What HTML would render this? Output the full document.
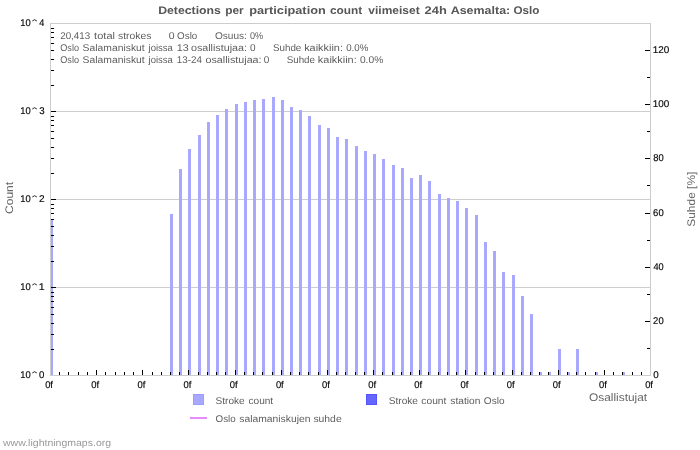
<!DOCTYPE html><html><head><meta charset="utf-8"><title>chart</title><style>html,body{margin:0;padding:0;background:#fff}svg{display:block}text{font-family:"Liberation Sans",sans-serif}</style></head><body>
<svg width="700" height="450" viewBox="0 0 700 450">
<rect x="0" y="0" width="700" height="450" fill="#fff"/>
<g shape-rendering="crispEdges">
<rect x="51" y="111" width="599" height="1" fill="#cdcdcd"/>
<rect x="51" y="199" width="599" height="1" fill="#cdcdcd"/>
<rect x="51" y="287" width="599" height="1" fill="#cdcdcd"/>
<rect x="50" y="23" width="601" height="1" fill="#cdcdcd"/>
<rect x="50" y="375" width="601" height="1" fill="#cdcdcd"/>
<rect x="650" y="23" width="1" height="353" fill="#cdcdcd"/>
<rect x="50" y="220" width="3" height="155" fill="#a8a8ff"/>
<rect x="170" y="214" width="3" height="161" fill="#a8a8ff"/>
<rect x="179" y="169" width="3" height="206" fill="#a8a8ff"/>
<rect x="188" y="149" width="3" height="226" fill="#a8a8ff"/>
<rect x="198" y="135" width="3" height="240" fill="#a8a8ff"/>
<rect x="207" y="122" width="3" height="253" fill="#a8a8ff"/>
<rect x="216" y="115" width="3" height="260" fill="#a8a8ff"/>
<rect x="225" y="109" width="3" height="266" fill="#a8a8ff"/>
<rect x="235" y="104" width="3" height="271" fill="#a8a8ff"/>
<rect x="244" y="102" width="3" height="273" fill="#a8a8ff"/>
<rect x="253" y="100" width="3" height="275" fill="#a8a8ff"/>
<rect x="262" y="99" width="3" height="276" fill="#a8a8ff"/>
<rect x="272" y="97" width="3" height="278" fill="#a8a8ff"/>
<rect x="281" y="100" width="3" height="275" fill="#a8a8ff"/>
<rect x="290" y="107" width="3" height="268" fill="#a8a8ff"/>
<rect x="299" y="110" width="3" height="265" fill="#a8a8ff"/>
<rect x="308" y="116" width="3" height="259" fill="#a8a8ff"/>
<rect x="318" y="125" width="3" height="250" fill="#a8a8ff"/>
<rect x="327" y="128" width="3" height="247" fill="#a8a8ff"/>
<rect x="336" y="137" width="3" height="238" fill="#a8a8ff"/>
<rect x="345" y="139" width="3" height="236" fill="#a8a8ff"/>
<rect x="355" y="146" width="3" height="229" fill="#a8a8ff"/>
<rect x="364" y="151" width="3" height="224" fill="#a8a8ff"/>
<rect x="373" y="154" width="3" height="221" fill="#a8a8ff"/>
<rect x="382" y="159" width="3" height="216" fill="#a8a8ff"/>
<rect x="392" y="165" width="3" height="210" fill="#a8a8ff"/>
<rect x="401" y="168" width="3" height="207" fill="#a8a8ff"/>
<rect x="410" y="178" width="3" height="197" fill="#a8a8ff"/>
<rect x="419" y="175" width="3" height="200" fill="#a8a8ff"/>
<rect x="428" y="181" width="3" height="194" fill="#a8a8ff"/>
<rect x="438" y="194" width="3" height="181" fill="#a8a8ff"/>
<rect x="447" y="198" width="3" height="177" fill="#a8a8ff"/>
<rect x="456" y="201" width="3" height="174" fill="#a8a8ff"/>
<rect x="465" y="208" width="3" height="167" fill="#a8a8ff"/>
<rect x="475" y="215" width="3" height="160" fill="#a8a8ff"/>
<rect x="484" y="242" width="3" height="133" fill="#a8a8ff"/>
<rect x="493" y="251" width="3" height="124" fill="#a8a8ff"/>
<rect x="502" y="272" width="3" height="103" fill="#a8a8ff"/>
<rect x="512" y="275" width="3" height="100" fill="#a8a8ff"/>
<rect x="521" y="296" width="3" height="79" fill="#a8a8ff"/>
<rect x="530" y="314" width="3" height="61" fill="#a8a8ff"/>
<rect x="539" y="372" width="3" height="3" fill="#a8a8ff"/>
<rect x="548" y="372" width="3" height="3" fill="#a8a8ff"/>
<rect x="558" y="349" width="3" height="26" fill="#a8a8ff"/>
<rect x="567" y="372" width="3" height="3" fill="#a8a8ff"/>
<rect x="576" y="349" width="3" height="26" fill="#a8a8ff"/>
<rect x="595" y="372" width="3" height="3" fill="#a8a8ff"/>
<rect x="622" y="372" width="3" height="3" fill="#a8a8ff"/>
<rect x="50" y="23" width="1" height="353" fill="#cdcdcd"/>
<rect x="51" y="85" width="3" height="1" fill="#000"/>
<rect x="51" y="70" width="3" height="1" fill="#000"/>
<rect x="51" y="59" width="3" height="1" fill="#000"/>
<rect x="51" y="50" width="3" height="1" fill="#000"/>
<rect x="51" y="43" width="3" height="1" fill="#000"/>
<rect x="51" y="37" width="3" height="1" fill="#000"/>
<rect x="51" y="32" width="3" height="1" fill="#000"/>
<rect x="51" y="28" width="3" height="1" fill="#000"/>
<rect x="51" y="111" width="5" height="1" fill="#000"/>
<rect x="51" y="173" width="3" height="1" fill="#000"/>
<rect x="51" y="158" width="3" height="1" fill="#000"/>
<rect x="51" y="147" width="3" height="1" fill="#000"/>
<rect x="51" y="138" width="3" height="1" fill="#000"/>
<rect x="51" y="131" width="3" height="1" fill="#000"/>
<rect x="51" y="125" width="3" height="1" fill="#000"/>
<rect x="51" y="120" width="3" height="1" fill="#000"/>
<rect x="51" y="116" width="3" height="1" fill="#000"/>
<rect x="51" y="199" width="5" height="1" fill="#000"/>
<rect x="51" y="261" width="3" height="1" fill="#000"/>
<rect x="51" y="246" width="3" height="1" fill="#000"/>
<rect x="51" y="235" width="3" height="1" fill="#000"/>
<rect x="51" y="226" width="3" height="1" fill="#000"/>
<rect x="51" y="219" width="3" height="1" fill="#000"/>
<rect x="51" y="213" width="3" height="1" fill="#000"/>
<rect x="51" y="208" width="3" height="1" fill="#000"/>
<rect x="51" y="204" width="3" height="1" fill="#000"/>
<rect x="51" y="287" width="5" height="1" fill="#000"/>
<rect x="51" y="349" width="3" height="1" fill="#000"/>
<rect x="51" y="334" width="3" height="1" fill="#000"/>
<rect x="51" y="323" width="3" height="1" fill="#000"/>
<rect x="51" y="314" width="3" height="1" fill="#000"/>
<rect x="51" y="307" width="3" height="1" fill="#000"/>
<rect x="51" y="301" width="3" height="1" fill="#000"/>
<rect x="51" y="296" width="3" height="1" fill="#000"/>
<rect x="51" y="292" width="3" height="1" fill="#000"/>
<rect x="647" y="348" width="3" height="1" fill="#000"/>
<rect x="645" y="321" width="5" height="1" fill="#000"/>
<rect x="647" y="294" width="3" height="1" fill="#000"/>
<rect x="645" y="267" width="5" height="1" fill="#000"/>
<rect x="647" y="240" width="3" height="1" fill="#000"/>
<rect x="645" y="213" width="5" height="1" fill="#000"/>
<rect x="647" y="185" width="3" height="1" fill="#000"/>
<rect x="645" y="158" width="5" height="1" fill="#000"/>
<rect x="647" y="131" width="3" height="1" fill="#000"/>
<rect x="645" y="104" width="5" height="1" fill="#000"/>
<rect x="647" y="77" width="3" height="1" fill="#000"/>
<rect x="645" y="50" width="5" height="1" fill="#000"/>
<rect x="59" y="372" width="1" height="3" fill="#000"/>
<rect x="68" y="372" width="1" height="3" fill="#000"/>
<rect x="78" y="372" width="1" height="3" fill="#000"/>
<rect x="87" y="372" width="1" height="3" fill="#000"/>
<rect x="96" y="370" width="1" height="5" fill="#000"/>
<rect x="105" y="372" width="1" height="3" fill="#000"/>
<rect x="115" y="372" width="1" height="3" fill="#000"/>
<rect x="124" y="372" width="1" height="3" fill="#000"/>
<rect x="133" y="372" width="1" height="3" fill="#000"/>
<rect x="142" y="370" width="1" height="5" fill="#000"/>
<rect x="152" y="372" width="1" height="3" fill="#000"/>
<rect x="161" y="372" width="1" height="3" fill="#000"/>
<rect x="170" y="372" width="1" height="3" fill="#000"/>
<rect x="179" y="372" width="1" height="3" fill="#000"/>
<rect x="188" y="370" width="1" height="5" fill="#000"/>
<rect x="198" y="372" width="1" height="3" fill="#000"/>
<rect x="207" y="372" width="1" height="3" fill="#000"/>
<rect x="216" y="372" width="1" height="3" fill="#000"/>
<rect x="225" y="372" width="1" height="3" fill="#000"/>
<rect x="235" y="370" width="1" height="5" fill="#000"/>
<rect x="244" y="372" width="1" height="3" fill="#000"/>
<rect x="253" y="372" width="1" height="3" fill="#000"/>
<rect x="262" y="372" width="1" height="3" fill="#000"/>
<rect x="272" y="372" width="1" height="3" fill="#000"/>
<rect x="281" y="370" width="1" height="5" fill="#000"/>
<rect x="290" y="372" width="1" height="3" fill="#000"/>
<rect x="299" y="372" width="1" height="3" fill="#000"/>
<rect x="308" y="372" width="1" height="3" fill="#000"/>
<rect x="318" y="372" width="1" height="3" fill="#000"/>
<rect x="327" y="370" width="1" height="5" fill="#000"/>
<rect x="336" y="372" width="1" height="3" fill="#000"/>
<rect x="345" y="372" width="1" height="3" fill="#000"/>
<rect x="355" y="372" width="1" height="3" fill="#000"/>
<rect x="364" y="372" width="1" height="3" fill="#000"/>
<rect x="373" y="370" width="1" height="5" fill="#000"/>
<rect x="382" y="372" width="1" height="3" fill="#000"/>
<rect x="392" y="372" width="1" height="3" fill="#000"/>
<rect x="401" y="372" width="1" height="3" fill="#000"/>
<rect x="410" y="372" width="1" height="3" fill="#000"/>
<rect x="419" y="370" width="1" height="5" fill="#000"/>
<rect x="428" y="372" width="1" height="3" fill="#000"/>
<rect x="438" y="372" width="1" height="3" fill="#000"/>
<rect x="447" y="372" width="1" height="3" fill="#000"/>
<rect x="456" y="372" width="1" height="3" fill="#000"/>
<rect x="465" y="370" width="1" height="5" fill="#000"/>
<rect x="475" y="372" width="1" height="3" fill="#000"/>
<rect x="484" y="372" width="1" height="3" fill="#000"/>
<rect x="493" y="372" width="1" height="3" fill="#000"/>
<rect x="502" y="372" width="1" height="3" fill="#000"/>
<rect x="512" y="370" width="1" height="5" fill="#000"/>
<rect x="521" y="372" width="1" height="3" fill="#000"/>
<rect x="530" y="372" width="1" height="3" fill="#000"/>
<rect x="539" y="372" width="1" height="3" fill="#000"/>
<rect x="548" y="372" width="1" height="3" fill="#000"/>
<rect x="558" y="370" width="1" height="5" fill="#000"/>
<rect x="567" y="372" width="1" height="3" fill="#000"/>
<rect x="576" y="372" width="1" height="3" fill="#000"/>
<rect x="585" y="372" width="1" height="3" fill="#000"/>
<rect x="595" y="372" width="1" height="3" fill="#000"/>
<rect x="604" y="370" width="1" height="5" fill="#000"/>
<rect x="613" y="372" width="1" height="3" fill="#000"/>
<rect x="622" y="372" width="1" height="3" fill="#000"/>
<rect x="632" y="372" width="1" height="3" fill="#000"/>
<rect x="641" y="372" width="1" height="3" fill="#000"/>
</g>
<g style="will-change:transform;opacity:0.995;text-rendering:geometricPrecision">
<text x="158.18" y="14" font-size="11" font-weight="bold" fill="#555" textLength="62.72" lengthAdjust="spacingAndGlyphs">Detections</text>
<text x="225.21" y="14" font-size="11" font-weight="bold" fill="#555" textLength="18.57" lengthAdjust="spacingAndGlyphs">per</text>
<text x="249.16" y="14" font-size="11" font-weight="bold" fill="#555" textLength="76.63" lengthAdjust="spacingAndGlyphs">participation</text>
<text x="329.94" y="14" font-size="11" font-weight="bold" fill="#555" textLength="32.21" lengthAdjust="spacingAndGlyphs">count</text>
<text x="368.35" y="14" font-size="11" font-weight="bold" fill="#555" textLength="51.39" lengthAdjust="spacingAndGlyphs">viimeiset</text>
<text x="424.55" y="14" font-size="11" font-weight="bold" fill="#555" textLength="22.25" lengthAdjust="spacingAndGlyphs">24h</text>
<text x="450.69" y="14" font-size="11" font-weight="bold" fill="#555" textLength="59.51" lengthAdjust="spacingAndGlyphs">Asemalta:</text>
<text x="513.52" y="14" font-size="11" font-weight="bold" fill="#555" textLength="25.93" lengthAdjust="spacingAndGlyphs">Oslo</text>
<text x="20.18" y="26.0" font-size="9.8" stroke="#000" stroke-width="0.15" fill="#000" textLength="10.49" lengthAdjust="spacingAndGlyphs">10</text>
<polyline points="32.3,21.0 34.6,19.7 36.9,21.0" fill="none" stroke="#111" stroke-width="0.9" stroke-linejoin="round"/>
<text x="39.29" y="26.0" font-size="9.8" stroke="#000" stroke-width="0.15" fill="#000" textLength="5.08" lengthAdjust="spacingAndGlyphs">4</text>
<text x="20.18" y="114.0" font-size="9.8" stroke="#000" stroke-width="0.15" fill="#000" textLength="10.49" lengthAdjust="spacingAndGlyphs">10</text>
<polyline points="32.3,109.0 34.6,107.7 36.9,109.0" fill="none" stroke="#111" stroke-width="0.9" stroke-linejoin="round"/>
<text x="39.13" y="114.0" font-size="9.8" stroke="#000" stroke-width="0.15" fill="#000" textLength="5.40" lengthAdjust="spacingAndGlyphs">3</text>
<text x="20.18" y="202.0" font-size="9.8" stroke="#000" stroke-width="0.15" fill="#000" textLength="10.49" lengthAdjust="spacingAndGlyphs">10</text>
<polyline points="32.3,197.0 34.6,195.7 36.9,197.0" fill="none" stroke="#111" stroke-width="0.9" stroke-linejoin="round"/>
<text x="38.99" y="202.0" font-size="9.8" stroke="#000" stroke-width="0.15" fill="#000" textLength="5.62" lengthAdjust="spacingAndGlyphs">2</text>
<text x="20.18" y="290.0" font-size="9.8" stroke="#000" stroke-width="0.15" fill="#000" textLength="10.49" lengthAdjust="spacingAndGlyphs">10</text>
<polyline points="32.3,285.0 34.6,283.7 36.9,285.0" fill="none" stroke="#111" stroke-width="0.9" stroke-linejoin="round"/>
<text x="38.69" y="290.0" font-size="9.8" stroke="#000" stroke-width="0.15" fill="#000" textLength="5.93" lengthAdjust="spacingAndGlyphs">1</text>
<text x="20.18" y="378.0" font-size="9.8" stroke="#000" stroke-width="0.15" fill="#000" textLength="10.49" lengthAdjust="spacingAndGlyphs">10</text>
<polyline points="32.3,373.0 34.6,371.7 36.9,373.0" fill="none" stroke="#111" stroke-width="0.9" stroke-linejoin="round"/>
<text x="39.12" y="378.0" font-size="9.8" stroke="#000" stroke-width="0.15" fill="#000" textLength="5.35" lengthAdjust="spacingAndGlyphs">0</text>
<text x="653.22" y="378.0" font-size="9.8" stroke="#000" stroke-width="0.15" fill="#000" textLength="5.47" lengthAdjust="spacingAndGlyphs">0</text>
<text x="653.12" y="324.0" font-size="9.8" stroke="#000" stroke-width="0.15" fill="#000" textLength="10.55" lengthAdjust="spacingAndGlyphs">20</text>
<text x="653.39" y="270.0" font-size="9.8" stroke="#000" stroke-width="0.15" fill="#000" textLength="10.27" lengthAdjust="spacingAndGlyphs">40</text>
<text x="653.12" y="216.0" font-size="9.8" stroke="#000" stroke-width="0.15" fill="#000" textLength="10.55" lengthAdjust="spacingAndGlyphs">60</text>
<text x="653.19" y="161.0" font-size="9.8" stroke="#000" stroke-width="0.15" fill="#000" textLength="10.48" lengthAdjust="spacingAndGlyphs">80</text>
<text x="652.84" y="107.0" font-size="9.8" stroke="#000" stroke-width="0.15" fill="#000" textLength="16.54" lengthAdjust="spacingAndGlyphs">100</text>
<text x="652.84" y="53.0" font-size="9.8" stroke="#000" stroke-width="0.15" fill="#000" textLength="16.54" lengthAdjust="spacingAndGlyphs">120</text>
<text x="45.13" y="388" font-size="9.8" stroke="#000" stroke-width="0.15" fill="#000" textLength="7.85" lengthAdjust="spacingAndGlyphs">0f</text>
<text x="91.29" y="388" font-size="9.8" stroke="#000" stroke-width="0.15" fill="#000" textLength="7.85" lengthAdjust="spacingAndGlyphs">0f</text>
<text x="137.44" y="388" font-size="9.8" stroke="#000" stroke-width="0.15" fill="#000" textLength="7.85" lengthAdjust="spacingAndGlyphs">0f</text>
<text x="183.59" y="388" font-size="9.8" stroke="#000" stroke-width="0.15" fill="#000" textLength="7.85" lengthAdjust="spacingAndGlyphs">0f</text>
<text x="229.75" y="388" font-size="9.8" stroke="#000" stroke-width="0.15" fill="#000" textLength="7.85" lengthAdjust="spacingAndGlyphs">0f</text>
<text x="275.90" y="388" font-size="9.8" stroke="#000" stroke-width="0.15" fill="#000" textLength="7.85" lengthAdjust="spacingAndGlyphs">0f</text>
<text x="322.06" y="388" font-size="9.8" stroke="#000" stroke-width="0.15" fill="#000" textLength="7.85" lengthAdjust="spacingAndGlyphs">0f</text>
<text x="368.21" y="388" font-size="9.8" stroke="#000" stroke-width="0.15" fill="#000" textLength="7.85" lengthAdjust="spacingAndGlyphs">0f</text>
<text x="414.36" y="388" font-size="9.8" stroke="#000" stroke-width="0.15" fill="#000" textLength="7.85" lengthAdjust="spacingAndGlyphs">0f</text>
<text x="460.52" y="388" font-size="9.8" stroke="#000" stroke-width="0.15" fill="#000" textLength="7.85" lengthAdjust="spacingAndGlyphs">0f</text>
<text x="506.67" y="388" font-size="9.8" stroke="#000" stroke-width="0.15" fill="#000" textLength="7.85" lengthAdjust="spacingAndGlyphs">0f</text>
<text x="552.82" y="388" font-size="9.8" stroke="#000" stroke-width="0.15" fill="#000" textLength="7.85" lengthAdjust="spacingAndGlyphs">0f</text>
<text x="598.98" y="388" font-size="9.8" stroke="#000" stroke-width="0.15" fill="#000" textLength="7.85" lengthAdjust="spacingAndGlyphs">0f</text>
<text x="645.13" y="388" font-size="9.8" stroke="#000" stroke-width="0.15" fill="#000" textLength="7.85" lengthAdjust="spacingAndGlyphs">0f</text>
<text x="60.21" y="39.0" font-size="9.8" fill="#5c5c5c" textLength="29.92" lengthAdjust="spacingAndGlyphs">20,413</text>
<text x="94.13" y="39.0" font-size="9.8" fill="#5c5c5c" textLength="20.91" lengthAdjust="spacingAndGlyphs">total</text>
<text x="118.01" y="39.0" font-size="9.8" fill="#5c5c5c" textLength="33.36" lengthAdjust="spacingAndGlyphs">strokes</text>
<text x="168.89" y="39.0" font-size="9.8" fill="#5c5c5c" textLength="5.82" lengthAdjust="spacingAndGlyphs">0</text>
<text x="177.14" y="39.0" font-size="9.8" fill="#5c5c5c" textLength="20.18" lengthAdjust="spacingAndGlyphs">Oslo</text>
<text x="214.92" y="39.0" font-size="9.8" fill="#5c5c5c" textLength="32.00" lengthAdjust="spacingAndGlyphs">Osuus:</text>
<text x="250.04" y="39.0" font-size="9.8" fill="#5c5c5c" textLength="13.18" lengthAdjust="spacingAndGlyphs">0%</text>
<text x="60.27" y="51.0" font-size="9.8" fill="#5c5c5c" textLength="18.71" lengthAdjust="spacingAndGlyphs">Oslo</text>
<text x="82.63" y="51.0" font-size="9.8" fill="#5c5c5c" textLength="62.05" lengthAdjust="spacingAndGlyphs">Salamaniskut</text>
<text x="148.53" y="51.0" font-size="9.8" fill="#5c5c5c" textLength="24.37" lengthAdjust="spacingAndGlyphs">joissa</text>
<text x="176.78" y="51.0" font-size="9.8" fill="#5c5c5c" textLength="12.00" lengthAdjust="spacingAndGlyphs">13</text>
<text x="190.95" y="51.0" font-size="9.8" fill="#5c5c5c" textLength="56.03" lengthAdjust="spacingAndGlyphs">osallistujaa:</text>
<text x="250.01" y="51.0" font-size="9.8" fill="#5c5c5c" textLength="5.58" lengthAdjust="spacingAndGlyphs">0</text>
<text x="272.95" y="51.0" font-size="9.8" fill="#5c5c5c" textLength="28.38" lengthAdjust="spacingAndGlyphs">Suhde</text>
<text x="304.16" y="51.0" font-size="9.8" fill="#5c5c5c" textLength="38.83" lengthAdjust="spacingAndGlyphs">kaikkiin:</text>
<text x="346.22" y="51.0" font-size="9.8" fill="#5c5c5c" textLength="22.13" lengthAdjust="spacingAndGlyphs">0.0%</text>
<text x="60.27" y="63.0" font-size="9.8" fill="#5c5c5c" textLength="18.71" lengthAdjust="spacingAndGlyphs">Oslo</text>
<text x="82.63" y="63.0" font-size="9.8" fill="#5c5c5c" textLength="62.05" lengthAdjust="spacingAndGlyphs">Salamaniskut</text>
<text x="148.53" y="63.0" font-size="9.8" fill="#5c5c5c" textLength="24.37" lengthAdjust="spacingAndGlyphs">joissa</text>
<text x="176.85" y="63.0" font-size="9.8" fill="#5c5c5c" textLength="25.14" lengthAdjust="spacingAndGlyphs">13-24</text>
<text x="205.55" y="63.0" font-size="9.8" fill="#5c5c5c" textLength="56.03" lengthAdjust="spacingAndGlyphs">osallistujaa:</text>
<text x="263.81" y="63.0" font-size="9.8" fill="#5c5c5c" textLength="5.58" lengthAdjust="spacingAndGlyphs">0</text>
<text x="286.65" y="63.0" font-size="9.8" fill="#5c5c5c" textLength="28.38" lengthAdjust="spacingAndGlyphs">Suhde</text>
<text x="317.86" y="63.0" font-size="9.8" fill="#5c5c5c" textLength="38.83" lengthAdjust="spacingAndGlyphs">kaikkiin:</text>
<text x="359.90" y="63.0" font-size="9.8" fill="#5c5c5c" textLength="23.37" lengthAdjust="spacingAndGlyphs">0.0%</text>
<text transform="translate(13,214.01) rotate(-90)" font-size="11" fill="#666" textLength="32.20" lengthAdjust="spacingAndGlyphs">Count</text>
<text transform="translate(695,226.74) rotate(-90)" font-size="11" fill="#666" textLength="55.09" lengthAdjust="spacingAndGlyphs">Suhde [%]</text>
<text x="589.04" y="401" font-size="11" fill="#666" textLength="58.05" lengthAdjust="spacingAndGlyphs">Osallistujat</text>
<rect x="193" y="394" width="11" height="11" fill="#9c9cff" shape-rendering="crispEdges"/><rect x="194" y="395" width="9" height="9" fill="#a8a8ff" shape-rendering="crispEdges"/>
<text x="215.54" y="403.8" font-size="9.8" fill="#5c5c5c" textLength="29.21" lengthAdjust="spacingAndGlyphs">Stroke</text>
<text x="248.47" y="403.8" font-size="9.8" fill="#5c5c5c" textLength="24.70" lengthAdjust="spacingAndGlyphs">count</text>
<rect x="366" y="394" width="11" height="11" fill="#5252ff" shape-rendering="crispEdges"/><rect x="367" y="395" width="9" height="9" fill="#6464ff" shape-rendering="crispEdges"/>
<text x="388.74" y="403.8" font-size="9.8" fill="#5c5c5c" textLength="29.21" lengthAdjust="spacingAndGlyphs">Stroke</text>
<text x="421.37" y="403.8" font-size="9.8" fill="#5c5c5c" textLength="25.01" lengthAdjust="spacingAndGlyphs">count</text>
<text x="450.32" y="403.8" font-size="9.8" fill="#5c5c5c" textLength="30.05" lengthAdjust="spacingAndGlyphs">station</text>
<text x="483.82" y="403.8" font-size="9.8" fill="#5c5c5c" textLength="20.70" lengthAdjust="spacingAndGlyphs">Oslo</text>
<rect x="190" y="417" width="17" height="2" fill="#e88aff" shape-rendering="crispEdges"/>
<text x="215.54" y="421.8" font-size="9.8" fill="#5c5c5c" textLength="20.18" lengthAdjust="spacingAndGlyphs">Oslo</text>
<text x="239.31" y="421.8" font-size="9.8" fill="#5c5c5c" textLength="71.16" lengthAdjust="spacingAndGlyphs">salamaniskujen</text>
<text x="313.41" y="421.8" font-size="9.8" fill="#5c5c5c" textLength="28.25" lengthAdjust="spacingAndGlyphs">suhde</text>
<text x="3.02" y="446.3" font-size="9.6" fill="#999" textLength="108.06" lengthAdjust="spacingAndGlyphs">www.lightningmaps.org</text>
</g>
</svg></body></html>
